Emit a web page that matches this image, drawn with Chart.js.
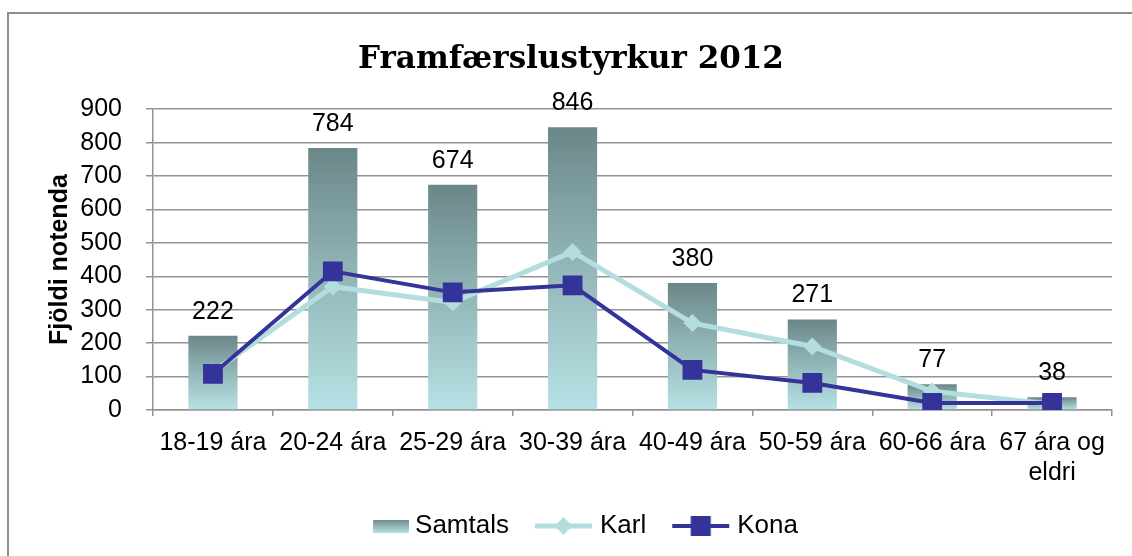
<!DOCTYPE html>
<html>
<head>
<meta charset="utf-8">
<script src="https://cdn.jsdelivr.net/npm/chart.js@4.4.1/dist/chart.umd.min.js"></script>
<style>
  html, body { margin: 0; padding: 0; background: #fff; }
  #wrap { position: relative; width: 1132px; height: 556px; overflow: hidden; }
  #frame { position: absolute; left: 7px; top: 12px; width: 2000px; height: 2000px;
           border-left: 2px solid #8e8e8e; border-top: 2px solid #8e8e8e; pointer-events: none; }
</style>
</head>
<body>
<div id="wrap">
  <canvas id="myChart" width="1132" height="556"></canvas>
  <div id="frame"></div>
</div>
<script>
// aldurshópar
const categories = ['18-19 ára', '20-24 ára', '25-29 ára', '30-39 ára', '40-49 ára', '50-59 ára', '60-66 ára', ['67 ára og', 'eldri']]
const samtals = [222, 784, 674, 846, 380, 271, 77, 38]
const karl = [114, 369, 322, 473, 260, 190, 56, 17]
const kona = [108, 415, 352, 373, 120, 81, 21, 21]
const yTicks = [0, 100, 200, 300, 400, 500, 600, 700, 800, 900]

const FONT = "'Liberation Sans', Arial, sans-serif"
const gridGray = '#939393'
const karlColor = '#b4dde0'
const konaColor = '#333399'
const barTop = '#6b8788'
const barBottom = '#b6e1e4'

// legend swatches (72 wide, legend box is 58 so they spill 7px each side)
function makeSwatch(kind) {
    const c = document.createElement('canvas')
    c.width = 72
    c.height = 24
    const g = c.getContext('2d')
    if (kind === 'bar') {
        const grd = g.createLinearGradient(0, 5, 0, 19)
        grd.addColorStop(0, barTop)
        grd.addColorStop(1, barBottom)
        g.fillStyle = grd
        g.fillRect(36, 6, 36, 13)
    } else if (kind === 'karl') {
        g.strokeStyle = karlColor
        g.lineWidth = 5
        g.beginPath(); g.moveTo(13, 12); g.lineTo(70, 12); g.stroke()
        g.fillStyle = karlColor
        g.beginPath(); g.moveTo(41.5, 3); g.lineTo(50.5, 12); g.lineTo(41.5, 21); g.lineTo(32.5, 12); g.closePath(); g.fill()
    } else {
        g.strokeStyle = konaColor
        g.lineWidth = 4
        g.beginPath(); g.moveTo(13, 12); g.lineTo(70, 12); g.stroke()
        g.fillStyle = konaColor
        g.fillRect(31.5, 2, 20, 20)
    }
    return c
}
const swatches = [makeSwatch('bar'), makeSwatch('karl'), makeSwatch('kona')]

const barLabels = {
    id: 'barLabels',
    afterDatasetsDraw(chart) {
        const ctx = chart.ctx
        const meta = chart.getDatasetMeta(2)
        ctx.save()
        ctx.font = '25px ' + FONT
        ctx.fillStyle = '#000'
        ctx.textAlign = 'center'
        ctx.textBaseline = 'alphabetic'
        meta.data.forEach((bar, i) => {
            ctx.fillText(String(samtals[i]), bar.x, bar.y - 17)
        })
        ctx.restore()
    }
}

const ctx = document.getElementById('myChart')
const myChart = new Chart(ctx, {
    data: {
        labels: categories,
        datasets: [
            {
                type: 'line',
                label: 'Kona',
                data: kona,
                borderColor: konaColor,
                backgroundColor: konaColor,
                borderWidth: 4,
                pointStyle: 'rect',
                pointRadius: 14,
                pointBorderWidth: 0,
                tension: 0,
                order: 1
            },
            {
                type: 'line',
                label: 'Karl',
                data: karl,
                borderColor: karlColor,
                backgroundColor: karlColor,
                borderWidth: 5,
                pointStyle: 'rectRot',
                pointRadius: 9,
                pointBorderWidth: 0,
                tension: 0,
                order: 2
            },
            {
                type: 'bar',
                label: 'Samtals',
                data: samtals,
                barPercentage: 0.41,
                categoryPercentage: 1,
                backgroundColor: (c) => {
                    const chart = c.chart
                    if (!chart.chartArea || c.type !== 'data') return '#8fb0b2'
                    const y = chart.scales.y
                    const top = y.getPixelForValue(c.raw)
                    const base = y.getPixelForValue(0)
                    const grd = chart.ctx.createLinearGradient(0, top, 0, base)
                    grd.addColorStop(0, barTop)
                    grd.addColorStop(0.5, '#93b7b9')
                    grd.addColorStop(1, barBottom)
                    return grd
                },
                order: 3
            }
        ]
    },
    options: {
        responsive: false,
        animation: false,
        layout: { padding: { top: 12, left: 30, right: 20, bottom: 7 } },
        plugins: {
            tooltip: { enabled: false },
            title: {
                display: true,
                text: 'Framfærslustyrkur 2012',
                color: '#000',
                font: { family: "'DejaVu Serif', serif", size: 31, weight: 'bold' },
                padding: { top: 29, bottom: 31 }
            },
            legend: {
                position: 'bottom',
                labels: {
                    color: '#000',
                    font: { family: FONT, size: 26 },
                    usePointStyle: true,
                    pointStyleWidth: 58,
                    padding: 20,
                    generateLabels() {
                        return ['Samtals', 'Karl', 'Kona'].map((t, i) => ({
                            text: t,
                            pointStyle: swatches[i],
                            fillStyle: 'transparent',
                            strokeStyle: 'transparent',
                            lineWidth: 0,
                            hidden: false,
                            datasetIndex: 2 - i
                        }))
                    }
                }
            }
        },
        scales: {
            x: {
                grid: { drawOnChartArea: false, drawTicks: true, tickLength: 6, offset: true, color: gridGray, lineWidth: 1.5 },
                border: { color: gridGray, width: 1.5 },
                ticks: { color: '#000', font: { family: FONT, size: 25 }, maxRotation: 0, autoSkip: false, padding: 12 },
                afterFit(scale) { scale.height = 83 }
            },
            y: {
                min: 0,
                max: 900,
                afterBuildTicks(scale) { scale.ticks = yTicks.map(v => ({ value: v })) },
                grid: { color: gridGray, lineWidth: 1.5, tickLength: 7 },
                border: { color: gridGray, width: 1.5 },
                ticks: { color: '#000', font: { family: FONT, size: 25 }, padding: 24 },
                title: {
                    display: true,
                    text: 'Fjöldi notenda',
                    color: '#000',
                    font: { family: FONT, size: 25, weight: 'bold' },
                    padding: { top: 15, bottom: 0 }
                },
                afterFit(scale) { scale.width = 123 }
            }
        }
    },
    plugins: [barLabels]
})
</script>
</body>
</html>
